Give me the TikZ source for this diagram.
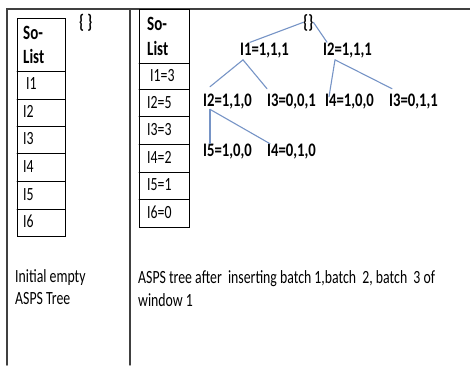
\documentclass[tikz,border=0pt]{standalone}
\usepackage{fontspec}
\setmainfont{Carlito}
\usepackage{tikz}
\definecolor{treeline}{RGB}{118,148,198}
\definecolor{framegray}{RGB}{64,64,64}

\begin{document}
\begin{tikzpicture}[x=1pt,y=-1pt,line cap=round,
  txt/.style={anchor=base west,inner sep=0pt,yscale=1.35,font=\fontsize{13.8}{17}\selectfont},
  head/.style={txt,font=\bfseries\fontsize{15}{18}\selectfont},
  tnode/.style={anchor=base west,inner sep=0pt,yscale=1.3,font=\bfseries\fontsize{14.7}{17}\selectfont},
  edge/.style={treeline,line width=1.1pt}]
\useasboundingbox (0,0) rectangle (470,365);
% frame
\draw[framegray,line width=1.6pt] (7,365) -- (7,9) -- (470,9);
\draw[framegray,line width=1.4pt] (130,9) -- (130,365);
% left So-List
\draw[line width=0.9pt] (17,18) rectangle (65,236);
\foreach \y in {71,99,126,153.5,181.5,209}
  \draw[line width=0.9pt] (17,\y) -- (65,\y);
\node[head] (lso) at (23,39) {So-};
\node[head] (llist) at (23,63) {List};
\node[txt] (l1) at (26,89) {I1};
\node[txt] (l2) at (23,117.5) {I2};
\node[txt] (l3) at (23,144.5) {I3};
\node[txt] (l4) at (23,172) {I4};
\node[txt] (l5) at (23,200) {I5};
\node[txt] (l6) at (23,227) {I6};
\node[head,font=\bfseries\fontsize{14.5}{17}\selectfont] (lroot) at (79,28) {\{ \}};
% right So-List
\draw[line width=0.9pt] (139,9) rectangle (189,227.5);
\foreach \y in {63,89.5,116.5,144.5,172,199.5}
  \draw[line width=0.9pt] (139,\y) -- (189,\y);
\node[head] (rso) at (147,30) {So-};
\node[head] (rlist) at (147,55) {List};
\node[txt] (r1) at (150,81) {I1=3};
\node[txt] (r2) at (147,108) {I2=5};
\node[txt] (r3) at (147,135) {I3=3};
\node[txt] (r4) at (147,163) {I4=2};
\node[txt] (r5) at (147,190) {I5=1};
\node[txt] (r6) at (147,218) {I6=0};
% tree
\node[tnode] (root) at (303,28) {\{\}};
\node[tnode] (a1) at (240,55) {I1=1,1,1};
\node[tnode] (a2) at (323,55) {I2=1,1,1};
\node[tnode] (b1) at (203,106.5) {I2=1,1,0};
\node[tnode] (b2) at (267,106.5) {I3=0,0,1};
\node[tnode] (b3) at (325,106.5) {I4=1,0,0};
\node[tnode] (b4) at (389,106.5) {I3=0,1,1};
\node[tnode] (c1) at (203,156.5) {I5=1,0,0};
\node[tnode] (c2) at (267,156.5) {I4=0,1,0};
\draw[edge] (root.west) -- ([xshift=10pt]a1.north west);
\draw[edge] (root.east) -- ([xshift=4pt]a2.north west);
\draw[edge] ([xshift=3pt,yshift=-2pt]a1.south west) -- ([xshift=7pt,yshift=7pt]b1.north west);
\draw[edge] ([xshift=3pt,yshift=-2pt]a1.south west) -- ([xshift=0pt,yshift=5pt]b2.north west);
\draw[edge] ([xshift=12pt,yshift=-2pt]a2.south west) -- ([xshift=4pt,yshift=-3pt]b3.north west);
\draw[edge] ([xshift=12pt,yshift=-2pt]a2.south west) -- ([xshift=3pt,yshift=5pt]b4.north west);
\draw[edge] ([xshift=7pt]b1.south west) -- ([xshift=7pt]c1.north west);
\draw[edge] ([xshift=7pt]b1.south west) -- ([xshift=3pt]c2.north west);
% captions
\node[txt] (cap1) at (15,282) {Initial empty};
\node[txt] (cap2) at (15,304) {ASPS Tree};
\node[txt] (cap3) at (138,283) {ASPS tree after\ \ inserting batch 1,batch\ \ 2, batch\ \ 3 of};
\node[txt] (cap4) at (138,306) {window 1};
\end{tikzpicture}
\end{document}
